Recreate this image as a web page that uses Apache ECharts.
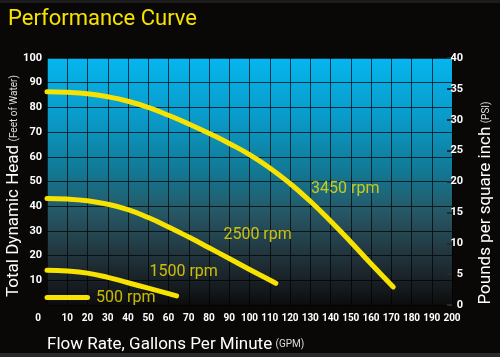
<!DOCTYPE html>
<html>
<head>
<meta charset="utf-8">
<script src="https://cdn.jsdelivr.net/npm/echarts@6/dist/echarts.min.js"></script>
<style>
html,body{margin:0;padding:0;background:#0a0707;}
#c{width:500px;height:357px;}
</style>
</head>
<body>
<div id="c"></div>
<script>
// ---- data ----
const rpm3450X = [0,10,20,30,40,50,60,70,80,90,100,110,120,130,140,150,160,171];
const rpm3450Y = [86.3,86.1,85.5,84.3,82.5,80.0,76.8,73.3,69.5,65.4,60.9,55.5,49.2,42.0,34.0,25.5,16.7,7.3];
const rpm2500X = [0,10,20,30,40,50,60,70,80,90,100,110,113];
const rpm2500Y = [43.1,42.9,42.2,40.8,38.6,35.4,31.6,27.5,23.2,18.8,14.4,10.1,8.8];
const rpm1500X = [0,10,20,30,40,50,60,64];
const rpm1500Y = [14.1,13.8,12.9,11.2,9.0,6.8,4.6,3.7];
const rpm500X = [0,20];
const rpm500Y = [3.0,3.0];
const curveNames = ['3450 rpm','2500 rpm','1500 rpm','500 rpm'];
// label anchors (data units: flow, head)
const labelFlow = [147.3,104,67.5,38.9];
const labelHead = [46.9,28.3,13.5,2.7];
const xTicks = {min:0,max:200,step:10};
const headTicks = {min:0,max:100,step:10};
const psiTicks = {min:0,max:40,step:5};

const zip = (xs, ys) => xs.map((x,i)=>[x, ys[i]]);
const YEL = '#f7e200';
const FONT = 'Roboto, "Liberation Sans", sans-serif';

const chart = echarts.init(document.getElementById('c'), null, {renderer:'canvas'});

const curves = [zip(rpm3450X,rpm3450Y), zip(rpm2500X,rpm2500Y), zip(rpm1500X,rpm1500Y), zip(rpm500X,rpm500Y)];

const series = curves.map((d,i)=>({
  type:'line', name:curveNames[i], data:d, smooth: i===3 ? false : 0.5,
  showSymbol:false, symbol:'none', clip:true,
  lineStyle:{color:YEL, width:5, cap:'round', join:'round'},
  z:3
}));
series.push({
  type:'scatter', symbolSize:0, silent:true, z:4,
  data: labelFlow.map((x,i)=>({value:[x,labelHead[i]], name:curveNames[i]})),
  label:{show:true, position:'inside', formatter:p=>p.name, color:YEL, fontSize:16, fontFamily:FONT}
});
// dummy series for right axis
series.push({type:'line', yAxisIndex:1, data:[], silent:true});

chart.setOption({
  backgroundColor:'#0a0707',
  animation:false,
  grid:{left:47, right:48, top:58, bottom:52, show:true, borderWidth:0,
    backgroundColor:{type:'linear', x:0, y:0, x2:0, y2:1, colorStops:[
      {offset:0, color:'#05b6ee'},
      {offset:0.25, color:'#0a99c8'},
      {offset:0.45, color:'#117a96'},
      {offset:0.62, color:'#265866'},
      {offset:0.8, color:'#22343c'},
      {offset:0.93, color:'#151b1f'},
      {offset:1, color:'#0c0c0c'}
    ]}
  },
  xAxis:{type:'value', min:xTicks.min, max:xTicks.max, interval:xTicks.step,
    axisLine:{show:false}, axisTick:{show:false},
    splitLine:{show:true, lineStyle:{color:'rgba(0,0,0,0.7)', width:1}},
    axisLabel:{color:'#ffffff', fontSize:10, fontWeight:'bold', fontFamily:FONT, margin:8,
      hideOverlap:false,
      formatter:v=> v===0 ? '{z|0}' : String(v),
      rich:{z:{color:'#fff', fontSize:10, fontWeight:'bold', fontFamily:FONT, padding:[0,18,0,0]}}
    }
  },
  yAxis:[
    {type:'value', min:headTicks.min, max:headTicks.max, interval:headTicks.step,
      axisLine:{show:false}, axisTick:{show:false},
      splitLine:{show:true, lineStyle:{color:'rgba(0,0,0,0.7)', width:1}},
      axisLabel:{color:'#ffffff', fontSize:11, fontWeight:'bold', fontFamily:FONT, margin:5,
        formatter:v=> v===0 ? '' : String(v)}
    },
    {type:'value', position:'right', min:psiTicks.min, max:psiTicks.max, interval:psiTicks.step,
      axisLine:{show:false},
      axisTick:{show:true, inside:true, length:5, lineStyle:{color:'#2a2a2a', width:2}},
      splitLine:{show:false},
      axisLabel:{color:'#ffffff', fontSize:11, fontWeight:'bold', fontFamily:FONT, margin:11, align:'right'}
    }
  ],
  graphic:[
    {type:'rect', left:0, top:0, shape:{width:500, height:3}, style:{fill:'#1c1c1c'}, silent:true},
    {type:'rect', left:0, top:353, shape:{width:500, height:4}, style:{fill:'#2a2a2a'}, silent:true},
    {type:'text', left:8, top:8, style:{text:'Performance Curve', fill:YEL, font:'22px '+FONT}},
    {type:'text', x:14, y:186, rotation:Math.PI/2,
      style:{text:'{a|Total Dynamic Head} {b|(Feet of Water)}', align:'center', verticalAlign:'middle',
        rich:{a:{fill:'#fff', fontSize:17, fontFamily:FONT}, b:{fill:'#ddd', fontSize:10, fontFamily:FONT}}}},
    {type:'text', x:486, y:203, rotation:Math.PI/2,
      style:{text:'{a|Pounds per square inch} {b|(PSI)}', align:'center', verticalAlign:'middle',
        rich:{a:{fill:'#fff', fontSize:17, fontFamily:FONT}, b:{fill:'#ddd', fontSize:10, fontFamily:FONT}}}},
    {type:'text', left:47, top:336,
      style:{text:'{a|Flow Rate, Gallons Per Minute} {b|(GPM)}',
        rich:{a:{fill:'#fff', fontSize:17, fontFamily:FONT}, b:{fill:'#ddd', fontSize:10, fontFamily:FONT}}}}
  ],
  series:series
});
</script>
</body>
</html>
